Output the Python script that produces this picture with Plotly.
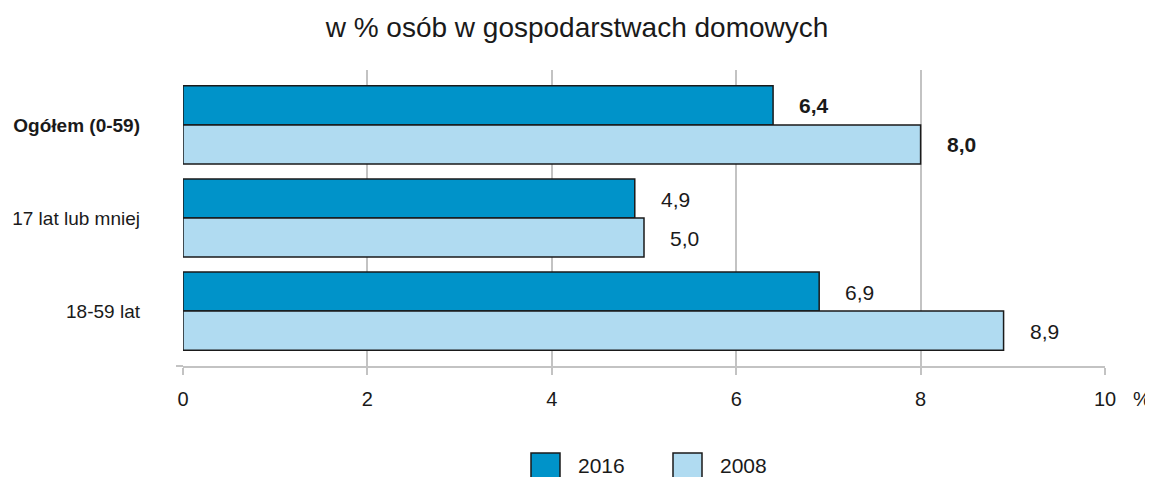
import plotly.graph_objects as go

categories = ["Ogółem (0-59)", "17 lat lub mniej", "18-59 lat"]
tick_text = ["<b>Ogółem (0-59)</b>", "17 lat lub mniej", "18-59 lat"]
series_names = ["2016", "2008"]
values_2016 = [6.4, 4.9, 6.9]
values_2008 = [8.0, 5.0, 8.9]
x_ticks = [0, 2, 4, 6, 8, 10]
title_text = "w % osób w gospodarstwach domowych"

col_2016 = "#0093C9"
col_2008 = "#B0DBF1"
outline = "#1a1a1a"
grid = "#c3c3c3"
font_fam = "Liberation Sans, Arial, sans-serif"

# plot area in screen pixels (used for paper-coordinate helpers)
PL, PR, PT, PB = 183, 1105, 70, 366


def fx(px):
    return (px - PL) / (PR - PL)


def fy(py):
    return (PB - py) / (PB - PT)


fig = go.Figure()
for name, vals, col in [(series_names[0], values_2016, col_2016), (series_names[1], values_2008, col_2008)]:
    fig.add_trace(go.Bar(
        y=categories, x=vals, name=name, orientation="h",
        marker=dict(color=col, line=dict(color=outline, width=1.5)),
        showlegend=False,
    ))

# value labels
for i, cat in enumerate(categories):
    for vals, shift in [(values_2016, 19), (values_2008, -20)]:
        v = vals[i]
        txt = f"{v:.1f}".replace(".", ",")
        if i == 0:
            txt = f"<b>{txt}</b>"
        fig.add_annotation(x=v, y=cat, text=txt, xanchor="left", yanchor="middle",
                           xshift=24, yshift=shift, showarrow=False,
                           font=dict(size=21, color="#1a1a1a", family=font_fam))

fig.add_annotation(x=10, xref="x", y=0, yref="paper", text="%", showarrow=False,
                   xanchor="left", yanchor="top", xshift=26, yshift=-20,
                   font=dict(size=20, color="#1a1a1a", family=font_fam))

# custom legend
legend_items = [(series_names[0], col_2016, 531), (series_names[1], col_2008, 673)]
for name, col, px in legend_items:
    fig.add_shape(type="rect", xref="paper", yref="paper",
                  x0=fx(px), x1=fx(px + 29), y0=fy(485), y1=fy(453),
                  fillcolor=col, line=dict(color=outline, width=1.5))
    fig.add_annotation(xref="paper", yref="paper", x=fx(px + 45),
                       y=fy(466), text=name, showarrow=False,
                       xanchor="left", yanchor="middle",
                       font=dict(size=21, color="#1a1a1a", family=font_fam))

fig.update_layout(
    width=1145, height=469,
    margin=dict(l=175, r=48, t=62, b=111, autoexpand=False),
    paper_bgcolor="white", plot_bgcolor="white",
    barmode="group", bargap=0.16, bargroupgap=0,
    title=dict(text=title_text, x=(577 - 8) / 1145, xref="container", xanchor="center",
               y=1 - 19 / 469, yref="container", yanchor="middle",
               font=dict(size=28, color="#1a1a1a", family=font_fam)),
    font=dict(family=font_fam, color="#1a1a1a"),
    xaxis=dict(range=[0, 10], tickvals=x_ticks, ticktext=[str(t) for t in x_ticks],
               showgrid=True, gridcolor=grid, gridwidth=2, zeroline=False,
               showline=True, linecolor=grid, linewidth=2,
               ticks="outside", ticklen=7, tickcolor=grid, tickwidth=2,
               ticklabelstandoff=7, automargin=False,
               tickfont=dict(size=20, color="#1a1a1a")),
    yaxis=dict(range=[2.59, -0.59], tickvals=categories, ticktext=tick_text,
               showgrid=False, zeroline=False, showline=False, ticks="",
               ticklabelstandoff=42, automargin=False,
               tickfont=dict(size=19, color="#1a1a1a")),
)
fig.add_shape(type="line", xref="paper", yref="paper", x0=fx(176), x1=0, y0=0, y1=0,
              line=dict(color=grid, width=2))

fig.write_html("out.html")
